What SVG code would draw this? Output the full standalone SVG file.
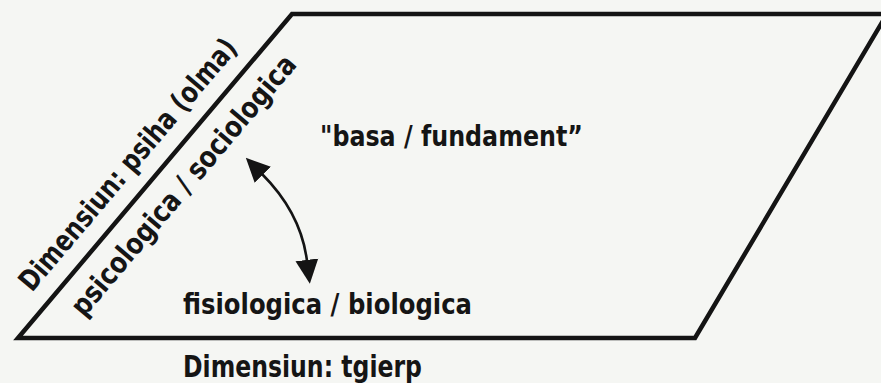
<svg xmlns="http://www.w3.org/2000/svg" width="881" height="383" viewBox="0 0 881 383">
  <style>
    .t { font-family: 'DejaVu Sans Condensed', 'DejaVu Sans', 'Liberation Sans', sans-serif; font-weight: bold; font-stretch: condensed; fill: #151515; }
    .edge { fill: none; stroke: #141414; stroke-width: 4.5; stroke-linejoin: miter; }
    .conn { fill: none; stroke: #141414; stroke-width: 2.6; }
  </style>
  <defs>
    <marker id="ah" markerUnits="userSpaceOnUse" markerWidth="24" markerHeight="24" viewBox="0 0 22 22" refX="1" refY="11" orient="auto-start-reverse">
      <path d="M0,0.5 L22,11 L0,21.5 z" fill="#141414"/>
    </marker>
  </defs>
  <rect x="0" y="0" width="881" height="383" fill="#f5f6f3"/>

  <g id="base-shape">
    <polygon class="edge" points="18,338 292,14 887,14 695,338"/>
  </g>

  <g id="dim-psiha">
    <text class="t" font-size="29" transform="translate(32,293) rotate(-49.78)" textLength="320" lengthAdjust="spacingAndGlyphs">Dimensiun: psiha (olma)</text>
  </g>

  <g id="psicologica">
    <text class="t" font-size="29" transform="translate(84,318) rotate(-49.78)" textLength="331" lengthAdjust="spacingAndGlyphs">psicologica / sociologica</text>
  </g>

  <g id="basa">
    <text class="t" font-size="29" x="320" y="146" textLength="263" lengthAdjust="spacingAndGlyphs">"basa / fundament”</text>
  </g>

  <g id="fisiologica">
    <text class="t" font-size="29" x="183" y="314" textLength="289" lengthAdjust="spacingAndGlyphs">fisiologica / biologica</text>
  </g>

  <g id="dim-tgierp">
    <text class="t" font-size="31" x="183" y="377" textLength="239" lengthAdjust="spacingAndGlyphs">Dimensiun: tgierp</text>
  </g>

  <g id="connectors">
    <path class="conn" d="M262,174 Q301,213 307,261" marker-start="url(#ah)" marker-end="url(#ah)"/>
  </g>
</svg>
